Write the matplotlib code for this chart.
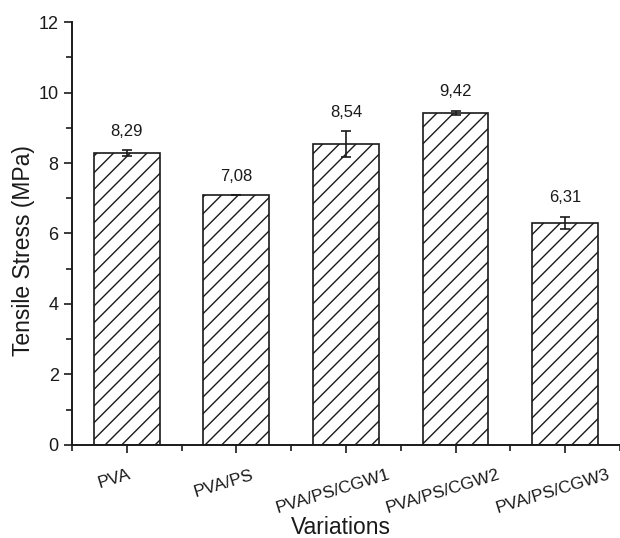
import matplotlib
matplotlib.use("Agg")
import matplotlib.pyplot as plt
from matplotlib.ticker import MultipleLocator
from matplotlib.transforms import ScaledTranslation

categories = ["PVA", "PVA/PS", "PVA/PS/CGW1", "PVA/PS/CGW2", "PVA/PS/CGW3"]
values = [8.29, 7.08, 8.54, 9.42, 6.31]
errors = [0.09, 0.0, 0.37, 0.07, 0.17]
value_labels = ["8,29", "7,08", "8,54", "9,42", "6,31"]

plt.rcParams['font.family'] = ['Liberation Sans', 'DejaVu Sans']
plt.rcParams['hatch.linewidth'] = 1.0

ink = '#1a1a1a'
fig = plt.figure(figsize=(6.2, 5.38), dpi=100)
ax = fig.add_axes([0.116, 0.173, 0.884, 0.786])

x = list(range(len(categories)))
ax.bar(x, values, width=0.6, color='white', edgecolor=ink, linewidth=1.2,
       hatch='//', zorder=2)
ax.errorbar(x, values, yerr=errors, fmt='none', ecolor=ink, elinewidth=1.2,
            capsize=3.5, capthick=1.2, zorder=3)
for xi, v, e, lab in zip(x, values, errors, value_labels):
    ax.annotate(lab, (xi, v + e), xytext=(0, 8), textcoords='offset points',
                ha='center', va='bottom', fontsize=12, color=ink)

ax.set_xlim(-0.5, 4.5)
ax.set_ylim(0, 12)
ax.yaxis.set_major_locator(MultipleLocator(2))
ax.yaxis.set_minor_locator(MultipleLocator(1))
ax.set_xticks(x)
ax.set_xticks([i - 0.5 for i in x] + [4.5], minor=True)
ax.set_xticklabels(categories, rotation=17, ha='center', fontsize=12.5)
ax.tick_params(axis='both', which='major', direction='out', length=6, width=1.2,
               colors=ink, labelsize=13)
ax.tick_params(axis='x', which='major', labelsize=12.5, pad=10)
ax.tick_params(axis='both', which='minor', direction='out', length=4, width=1.2,
               colors=ink)
shift = ScaledTranslation(-9 / 72, 0, fig.dpi_scale_trans)
for lbl in ax.get_xticklabels():
    lbl.set_transform(lbl.get_transform() + shift)
for s in ['top', 'right']:
    ax.spines[s].set_visible(False)
for s in ['left', 'bottom']:
    ax.spines[s].set_linewidth(1.4)
    ax.spines[s].set_color(ink)

ax.set_xlabel("Variations", fontsize=16.5, color=ink)
ax.set_ylabel("Tensile Stress (MPa)", fontsize=16.5, color=ink)
ax.yaxis.set_label_coords(-0.068, 0.46)
ax.xaxis.set_label_coords(0.49, -0.167)

fig.savefig("out.png", dpi=100)
